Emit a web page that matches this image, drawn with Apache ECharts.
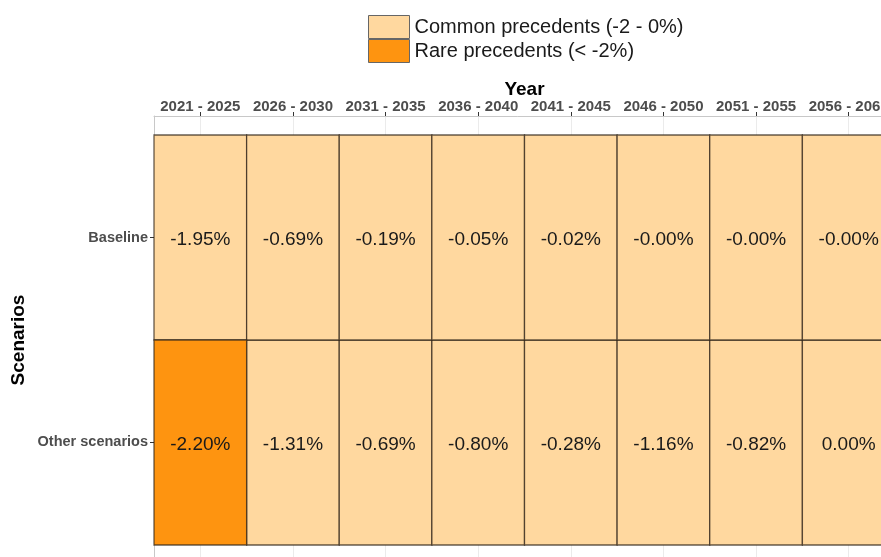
<!DOCTYPE html>
<html>
<head>
<meta charset="utf-8">
<title>Precedents heatmap</title>
<script src="https://cdn.jsdelivr.net/npm/echarts@6/dist/echarts.min.js"></script>
<style>
  html, body { margin: 0; padding: 0; background: #fff; }
  #chart { width: 881px; height: 557px; }
</style>
</head>
<body>
<div id="chart"></div>
<script>
// periods on the x axis
const periods = ['2021 - 2025', '2026 - 2030', '2031 - 2035', '2036 - 2040',
  '2041 - 2045', '2046 - 2050', '2051 - 2055', '2056 - 2060']
// rows, bottom to top
const scenarios = ['Other scenarios', 'Baseline']
// values in %
const otherScenarios = [-2.20, -1.31, -0.69, -0.80, -0.28, -1.16, -0.82, 0.00]
const baseline = [-1.95, -0.69, -0.19, -0.05, -0.02, -0.004, -0.003, -0.002]

const classNames = ['Common precedents (-2 - 0%)', 'Rare precedents (< -2%)']
const classColors = ['#FFD89F', '#FE9410']
const rareLimit = -2

const FONT = '"Liberation Sans", Arial, sans-serif'
const yPad = 0.0927 // panel padding above / below the tiles

// [periodIndex, rowPosition, value]
const cells = []
;[otherScenarios, baseline].forEach((row, r) => {
  row.forEach((v, i) => cells.push([i, r + 1, v]))
})
const commonCells = cells.filter(c => c[2] >= rareLimit)
const rareCells = cells.filter(c => c[2] < rareLimit)

function renderTile(params, api) {
  const c = api.coord([api.value(0), api.value(1)])
  const size = api.size([1, 1], [api.value(0), api.value(1)])
  return {
    type: 'rect',
    shape: { x: c[0] - size[0] / 2, y: c[1] - size[1] / 2, width: size[0], height: size[1] },
    style: { fill: api.visual('color'), stroke: 'rgba(50,38,25,0.75)', lineWidth: 1.3 },
    textContent: {
      style: {
        text: api.value(2).toFixed(2) + '%',
        fontSize: 19,
        fontFamily: FONT,
        fill: '#1a1a1a'
      }
    },
    textConfig: { position: 'inside', offset: [0, 2] }
  }
}

function tileSeries(name, color, data) {
  return {
    name: name,
    type: 'custom',
    renderItem: renderTile,
    itemStyle: { color: color },
    encode: { x: 0, y: 1 },
    data: data
  }
}

const chart = echarts.init(document.getElementById('chart'))

chart.setOption({
  animation: false,
  textStyle: { fontFamily: FONT },
  legend: {
    orient: 'vertical',
    left: 368,
    top: 15,
    padding: 0,
    icon: 'rect',
    itemWidth: 41,
    itemHeight: 23,
    itemGap: 0,
    selectedMode: false,
    itemStyle: { borderColor: '#666', borderWidth: 1 },
    textStyle: { fontSize: 20, color: '#1a1a1a', fontFamily: FONT },
    data: classNames
  },
  grid: { left: 154, top: 116, width: 741, height: 448, outerBoundsMode: 'none', containLabel: false },
  xAxis: {
    type: 'category',
    position: 'top',
    data: periods,
    name: 'Year',
    nameLocation: 'middle',
    nameGap: 17,
    nameMoveOverlap: false,
    nameTextStyle: { fontSize: 19, fontWeight: 'bold', color: '#000', fontFamily: FONT },
    axisLine: { lineStyle: { color: '#c8c8c8', width: 1 } },
    axisTick: { show: true, alignWithLabel: true, length: 4, lineStyle: { color: '#333' } },
    axisLabel: { interval: 0, fontSize: 15, fontWeight: 'bold', color: '#4d4d4d', margin: 2, fontFamily: FONT },
    splitLine: { show: true, alignWithLabel: true, lineStyle: { color: '#ebebeb' } }
  },
  yAxis: {
    type: 'value',
    min: 0.5 - yPad,
    max: scenarios.length + 0.5 + yPad,
    name: 'Scenarios',
    nameLocation: 'middle',
    nameGap: 126,
    nameRotate: 90,
    nameMoveOverlap: false,
    nameTextStyle: { fontSize: 19, fontWeight: 'bold', color: '#000', fontFamily: FONT },
    axisLine: { show: true, lineStyle: { color: '#c8c8c8', width: 1 } },
    axisTick: { show: true, length: 4, customValues: [1, 2], lineStyle: { color: '#333' } },
    axisLabel: {
      customValues: [1, 2],
      formatter: v => scenarios[Math.round(v) - 1],
      fontSize: 14.5,
      fontWeight: 'bold',
      color: '#4d4d4d',
      margin: 6,
      fontFamily: FONT
    },
    splitLine: { show: false }
  },
  series: [
    tileSeries(classNames[0], classColors[0], commonCells),
    tileSeries(classNames[1], classColors[1], rareCells)
  ]
})
</script>
</body>
</html>
